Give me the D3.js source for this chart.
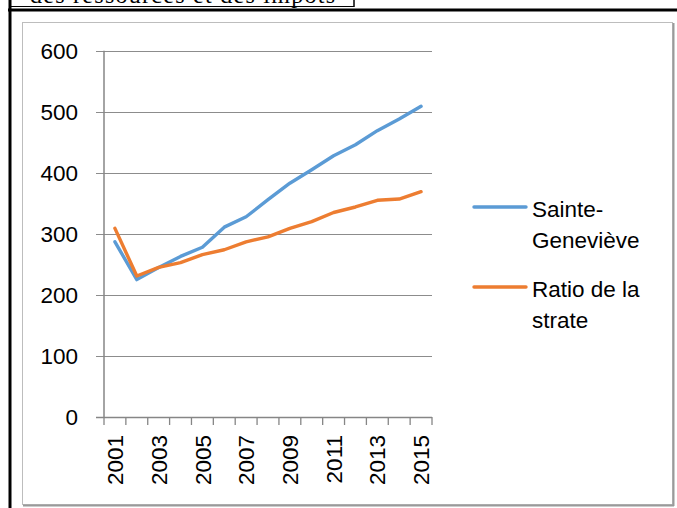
<!DOCTYPE html>
<html>
<head>
<meta charset="utf-8">
<script src="https://cdn.jsdelivr.net/npm/d3@7"></script>
<style>
  html, body { margin: 0; padding: 0; background: #fff; }
  svg { display: block; }
</style>
</head>
<body>
<svg id="chart" width="677" height="508"></svg>
<script>
const years = ["2001","2002","2003","2004","2005","2006","2007","2008","2009","2010","2011","2012","2013","2014","2015"];
const tickLabels = ["2001","2003","2005","2007","2009","2011","2013","2015"];
const yTicks = [0, 100, 200, 300, 400, 500, 600];
const sainteGenevieve = [287, 225, 245, 263, 278, 311, 328, 356, 383, 405, 428, 446, 469, 488, 509];
const ratioStrate = [309, 231, 245, 253, 266, 274, 287, 295, 309, 320, 335, 344, 355, 357, 369];
const seriesNames = [["Sainte-", "Geneviève"], ["Ratio de la", "strate"]];
const seriesColors = ["#5B9BD5", "#ED7D31"];

const svg = d3.select("#chart");
const font = "'Liberation Sans', Arial, sans-serif";

// page decorations (cut-off caption box, black frame lines)
svg.append("text").attr("x", 30).attr("y", 3)
  .attr("font-family", "'Liberation Serif', 'Times New Roman', serif")
  .attr("font-size", 24).attr("fill", "#000")
  .attr("textLength", 305).attr("lengthAdjust", "spacing")
  .text("des ressources et des impôts");
svg.append("line").attr("x1", 354).attr("x2", 354).attr("y1", 0).attr("y2", 7).attr("stroke", "#000").attr("stroke-width", 1.5);
svg.append("line").attr("x1", 10).attr("x2", 354).attr("y1", 6.5).attr("y2", 6.5).attr("stroke", "#000").attr("stroke-width", 1);
svg.append("line").attr("x1", 8).attr("x2", 677).attr("y1", 10).attr("y2", 10).attr("stroke", "#000").attr("stroke-width", 3);
svg.append("line").attr("x1", 10).attr("x2", 10).attr("y1", 0).attr("y2", 508).attr("stroke", "#000").attr("stroke-width", 3);

// chart frame
svg.append("rect").attr("x", 22.5).attr("y", 22.5).attr("width", 650).attr("height", 482)
  .attr("fill", "#fff").attr("stroke", "#bdbdbd").attr("stroke-width", 1);
svg.append("line").attr("x1", 673.5).attr("x2", 673.5).attr("y1", 23).attr("y2", 506).attr("stroke", "#9a9a9a").attr("stroke-width", 2);
svg.append("line").attr("x1", 23).attr("x2", 674).attr("y1", 505.5).attr("y2", 505.5).attr("stroke", "#9a9a9a").attr("stroke-width", 2);

const x = d3.scaleBand().domain(years).range([104, 432]);
const y = d3.scaleLinear().domain([0, 600]).range([417, 50.7]);

// gridlines + y labels
const yAxis = svg.append("g");
yTicks.forEach(t => {
  yAxis.append("line").attr("x1", 96).attr("x2", 432)
    .attr("y1", Math.round(y(t)) + 0.5).attr("y2", Math.round(y(t)) + 0.5)
    .attr("stroke", "#8c8c8c").attr("stroke-width", 1.2);
  yAxis.append("text").attr("x", 78).attr("y", y(t)).attr("dy", "0.36em")
    .attr("text-anchor", "end").attr("font-family", font).attr("font-size", 22.5)
    .attr("fill", "#000").text(t);
});
// y axis line
svg.append("line").attr("x1", 104).attr("x2", 104).attr("y1", y(600)).attr("y2", 418)
  .attr("stroke", "#868686").attr("stroke-width", 1.5);
// x axis line
svg.append("line").attr("x1", 96).attr("x2", 432).attr("y1", 417.5).attr("y2", 417.5)
  .attr("stroke", "#868686").attr("stroke-width", 1.5);
// x tick marks at band boundaries
const bounds = years.map(d => x(d)).concat([x(years[years.length - 1]) + x.bandwidth()]);
svg.append("g").selectAll("line").data(bounds).join("line")
  .attr("x1", d => d).attr("x2", d => d).attr("y1", 417).attr("y2", 425)
  .attr("stroke", "#868686").attr("stroke-width", 1.3);
// x labels
svg.append("g").selectAll("text").data(tickLabels).join("text")
  .attr("transform", d => `translate(${x(d) + x.bandwidth() / 2},435) rotate(-90)`)
  .attr("text-anchor", "end").attr("dy", "0.36em")
  .attr("font-family", font).attr("font-size", 22.5).attr("fill", "#000")
  .text(d => d);

// lines
const line = d3.line().x((d, i) => x(years[i]) + x.bandwidth() / 2).y(d => y(d));
[sainteGenevieve, ratioStrate].forEach((s, i) => {
  svg.append("path").datum(s).attr("d", line).attr("fill", "none")
    .attr("stroke", seriesColors[i]).attr("stroke-width", 3.4)
    .attr("stroke-linejoin", "round").attr("stroke-linecap", "round");
});

// legend
const legendY = [207, 287];
seriesNames.forEach((lines, i) => {
  const g = svg.append("g");
  g.append("line").attr("x1", 474).attr("x2", 526).attr("y1", legendY[i]).attr("y2", legendY[i])
    .attr("stroke", seriesColors[i]).attr("stroke-width", 3.4).attr("stroke-linecap", "round");
  lines.forEach((t, j) => {
    g.append("text").attr("x", 532).attr("y", legendY[i] + 10 + j * 31)
      .attr("font-family", font).attr("font-size", 22.5).attr("fill", "#000").text(t);
  });
});
</script>
</body>
</html>
